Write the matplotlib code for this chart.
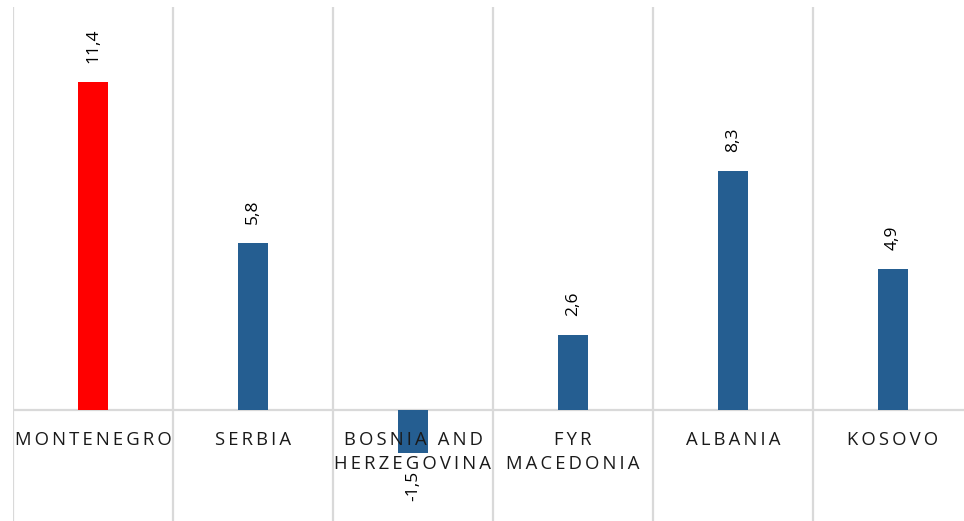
import matplotlib
matplotlib.use("Agg")
import matplotlib.pyplot as plt

countries = ["MONTENEGRO", "SERBIA", "BOSNIA AND\nHERZEGOVINA", "FYR\nMACEDONIA", "ALBANIA", "KOSOVO"]
values = [11.4, 5.8, -1.5, 2.6, 8.3, 4.9]
labels = ["11,4", "5,8", "-1,5", "2,6", "8,3", "4,9"]
colors = ["#FF0000", "#255E91", "#255E91", "#255E91", "#255E91", "#255E91"]

GRID = "#D9D9D9"
FONT = "Open Sans"
TS = "\u2009"  # thin space for letter spacing


def spaced(s):
    # mimic the wide letter spacing of the original axis labels
    return "\n".join((TS + " " + TS).join(TS.join(w) for w in line.split(" "))
                     for line in s.split("\n"))


W, H = 964, 521
fig = plt.figure(figsize=(W / 100, H / 100), dpi=100)
# axes spans x 13..973 px and y 7..521 px (right edge runs past the figure)
ax = fig.add_axes([13 / W, 0, 960 / W, (521 - 7) / H])
ax.set_xlim(0, len(values))
ax.set_ylim(-3.86, 14.0)
ax.axis("off")

x = [i + 0.5 for i in range(len(values))]
ax.bar(x, values, width=0.1875, color=colors, zorder=3)

for b in range(len(values) + 1):
    ax.axvline(b, color=GRID, lw=1.6, zorder=1)
ax.axhline(0, color=GRID, lw=1.6, zorder=2)

for xi, v, lab in zip(x, values, labels):
    if v >= 0:
        ax.text(xi, v + 0.66, lab, rotation=90, ha="center", va="bottom",
                fontsize=12.5, family=FONT, color="#000000", zorder=4)
    else:
        ax.text(xi, v - 0.6, lab, rotation=90, ha="center", va="top",
                fontsize=12.5, family=FONT, color="#000000", zorder=4)

for xi, name in zip(x, countries):
    ax.text(xi, -0.72, spaced(name), ha="center", va="top", fontsize=13.3,
            family=FONT, color="#1a1a1a", linespacing=1.45, zorder=5)

fig.savefig("out.png", dpi=100)
